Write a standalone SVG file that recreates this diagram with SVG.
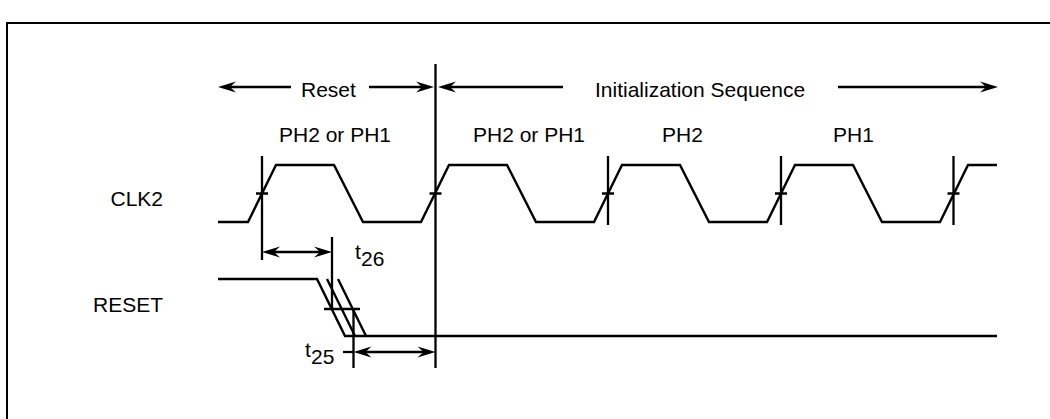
<svg xmlns="http://www.w3.org/2000/svg" width="1050" height="419" viewBox="0 0 1050 419">
<style>
text{font-family:"Liberation Sans",Arial,sans-serif;font-size:21px;fill:#000}
.ln{fill:none;stroke:#000;stroke-width:2.4;stroke-linejoin:miter}
.tk{fill:none;stroke:#000;stroke-width:2.3}
</style>
<defs>
<marker id="ah" viewBox="-19 -7 20 14" refX="-7" refY="0" markerWidth="20" markerHeight="14" markerUnits="userSpaceOnUse" orient="auto-start-reverse">
<path d="M0,0 L-18,-5.5 L-12,0 L-18,5.5 Z" fill="#000"/>
</marker>
</defs>
<rect x="7" y="23" width="1100" height="500" fill="#fff" stroke="#000" stroke-width="2"/>
<g id="labels">
<text x="301" y="96.5">Reset</text>
<text x="595" y="96.5">Initialization Sequence</text>
<text x="279" y="142">PH2 or PH1</text>
<text x="473" y="142">PH2 or PH1</text>
<text x="662" y="142">PH2</text>
<text x="833" y="142">PH1</text>
<text x="163" y="206" text-anchor="end">CLK2</text>
<text x="163" y="312" text-anchor="end">RESET</text>
<text x="355" y="259">t<tspan x="361" y="266">26</tspan></text>
<text x="305" y="357">t<tspan x="311" y="364">25</tspan></text>
</g>
<g id="clk2">
<polyline class="ln" points="218,222 248,222 276,165 334,165 363,222 421,222 449,165 507,165 536,222 594,222 622,165 680,165 709,222 767,222 795,165 853,165 882,222 940,222 968,165 997,165"/>
<path class="tk" d="M262,156V260M608,156V225M781,156V225M953.5,156V225M256,193.5H268M429.5,193.5H441.5M602,193.5H614M775,193.5H787M947.5,193.5H959.5"/>
</g>
<g id="reset">
<path class="ln" d="M218,279H317L345,336H997"/>
<path class="ln" d="M327,279L355,336M338,279L366,336"/>
<path class="tk" d="M332,237V310M353.5,308V368M324,309H360"/>
</g>
<g id="connectors">
<path class="tk" d="M435.5,64V368"/>
<path class="tk" d="M291,87H225" marker-end="url(#ah)"/>
<path class="tk" d="M369,87H427" marker-end="url(#ah)"/>
<path class="tk" d="M563,87H445" marker-end="url(#ah)"/>
<path class="tk" d="M838,87H991" marker-end="url(#ah)"/>
<path class="tk" d="M269,252H325" marker-start="url(#ah)" marker-end="url(#ah)"/>
<path class="tk" d="M360.5,352H428.5" marker-start="url(#ah)" marker-end="url(#ah)"/>
<path class="tk" d="M343,352H353.5"/>
</g>
</svg>
